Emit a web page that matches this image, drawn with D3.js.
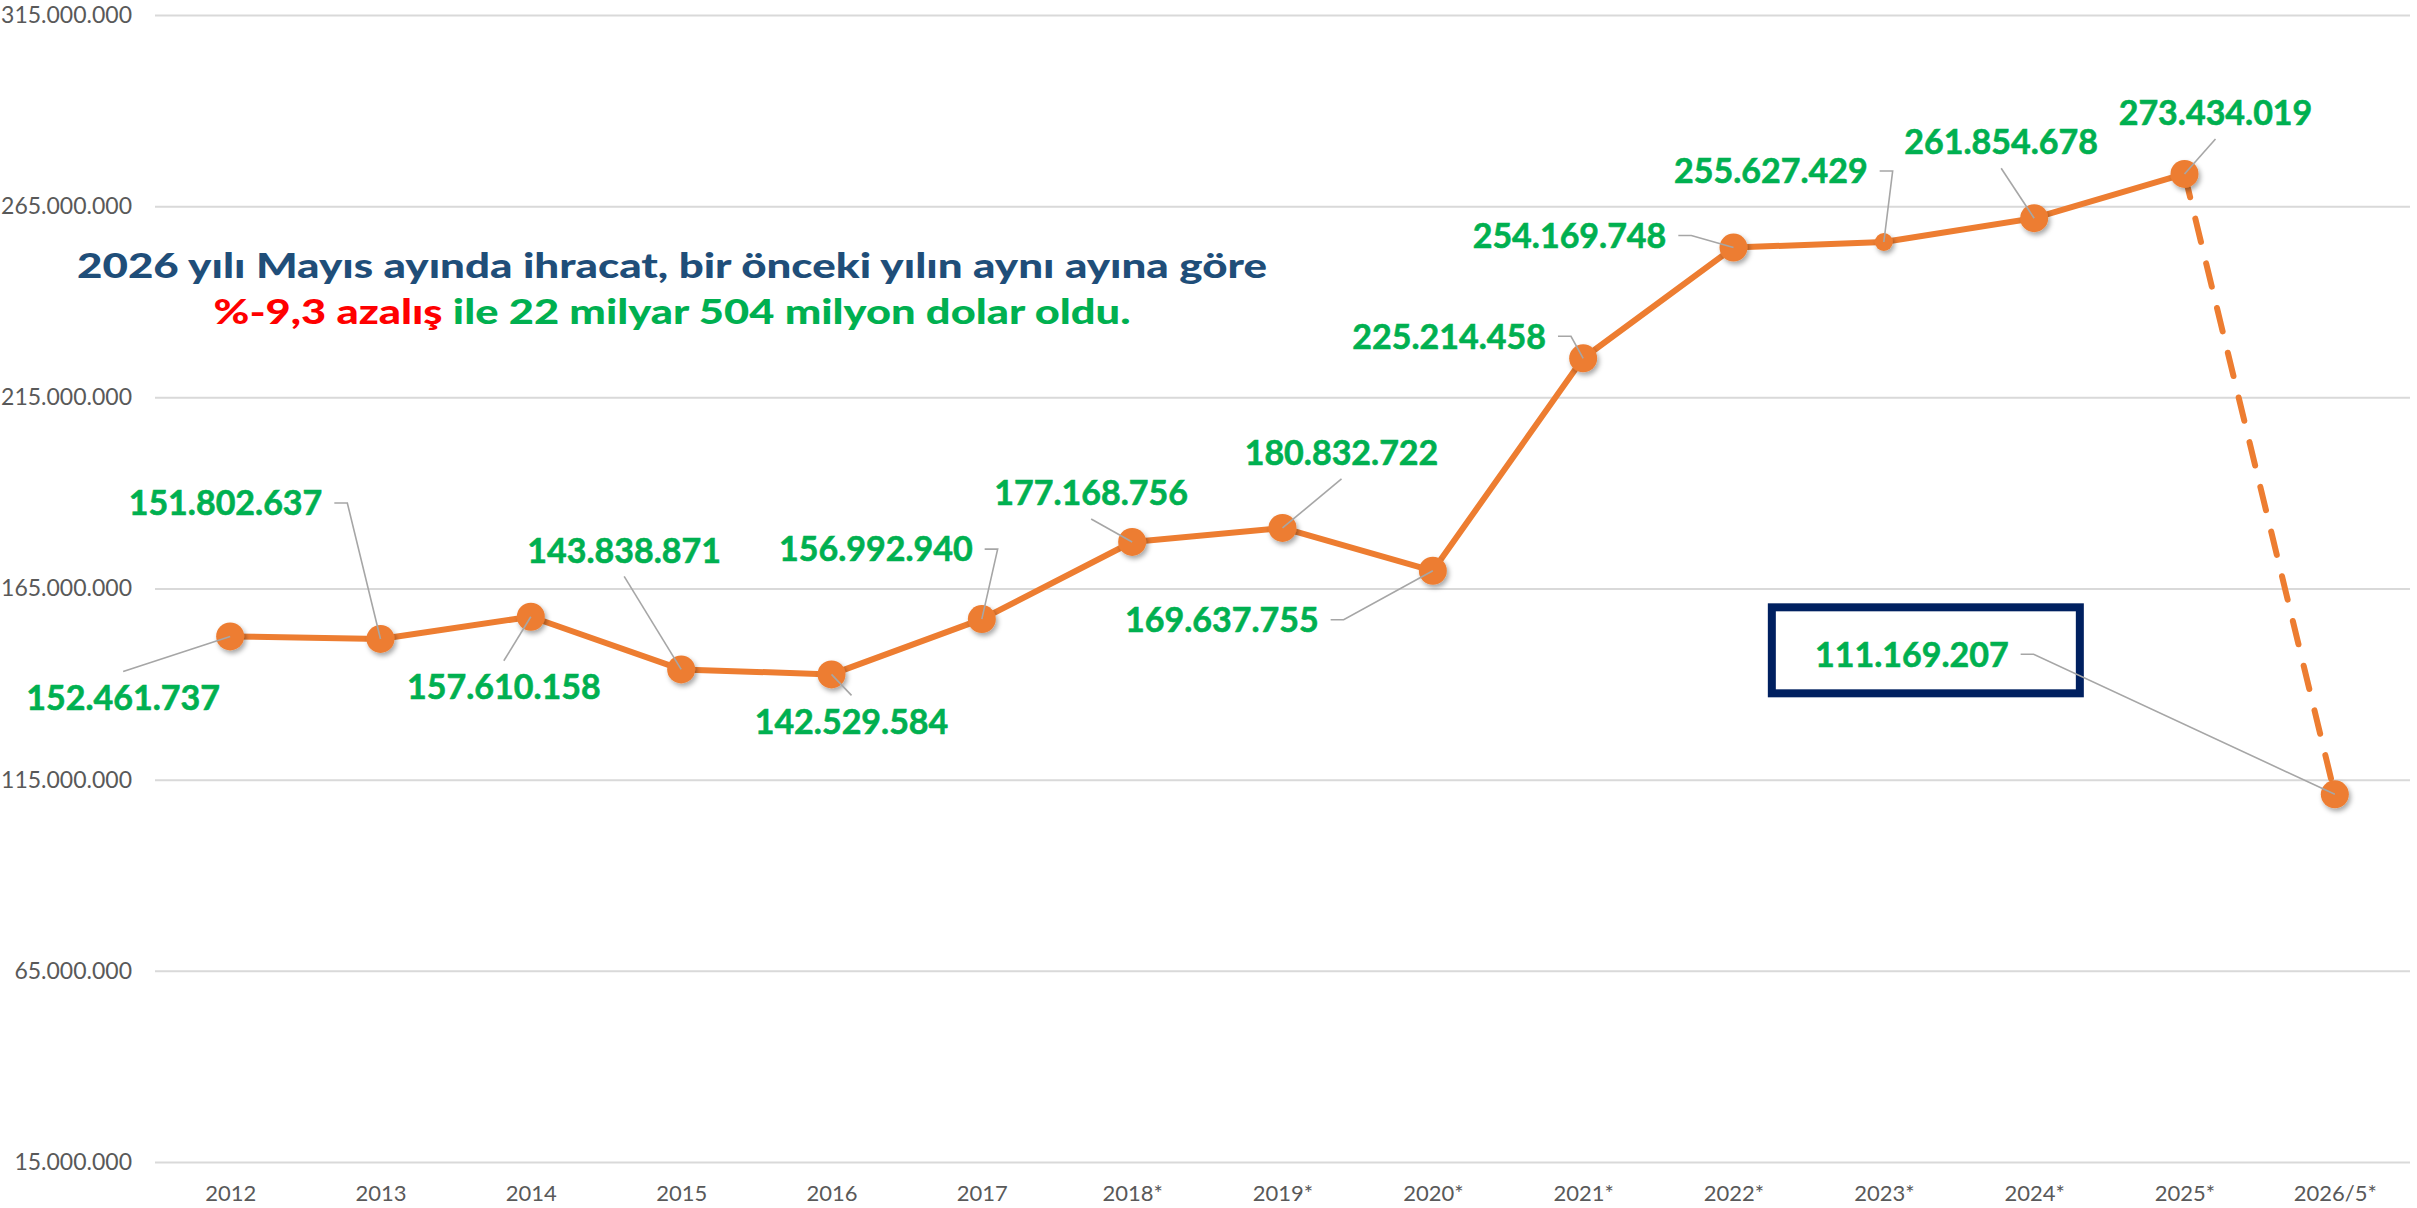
<!DOCTYPE html>
<html lang="tr">
<head>
<meta charset="utf-8">
<script src="https://cdn.jsdelivr.net/npm/d3@7"></script>
<style>
  body { margin: 0; background: #fff; }
  svg { display: block; }
  .tick text { font-family: Lato, sans-serif; fill: #595959; }
</style>
</head>
<body>
<svg id="chart"></svg>
<script>
const years = ["2012", "2013", "2014", "2015", "2016", "2017", "2018*", "2019*", "2020*",
    "2021*", "2022*", "2023*", "2024*", "2025*", "2026/5*"];
const ihracat = [152461737, 151802637, 157610158, 143838871, 142529584, 156992940, 177168756,
    180832722, 169637755, 225214458, 254169748, 255627429, 261854678, 273434019, 111169207];
const yTicks = [15000000, 65000000, 115000000, 165000000, 215000000, 265000000, 315000000];
const titleLine1 = "2026 yılı Mayıs ayında ihracat, bir önceki yılın aynı ayına göre";
const titleRed = "%-9,3 azalış";
const titleGreen = " ile 22 milyar 504 milyon dolar oldu.";

// where each label sits relative to its point: dx, dy, leader style
// "c" = leader from the text's top/bottom centre, "r" = from the right side with a small tick
const labelOffsets = [
    [-107, 61, "c"], [-155, -136, "r"], [-27, 70, "c"], [-57, -119, "c"], [20, 47, "c"],
    [-106, -70, "r"], [-41, -49, "c"], [59, -75, "c"], [-211, 49, "r"], [-134, -22, "r"],
    [-164, -12, "r"], [-113, -71, "r"], [-33, -76, "c"], [31, -61, "c"], [-423, -140, "r"]
];

const W = 2417, H = 1208;
const plotLeft = 155, plotRight = 2410, plotTop = 15, plotBottom = 1162;
const orange = "#ED7D31", green = "#00B050";

const svg = d3.select("#chart").attr("width", W).attr("height", H);

const tr = d3.formatLocale({ decimal: ",", thousands: ".", grouping: [3], currency: ["", ""] });
const fmt = tr.format(",d");

const x = d3.scalePoint().domain(years).range([plotLeft, plotRight]).padding(0.5);
const y = d3.scaleLinear().domain([15000000, 315000000]).range([plotBottom, plotTop]);

const defs = svg.append("defs");
const shadow = defs.append("filter").attr("id", "shadow")
    .attr("x", "-50%").attr("y", "-50%").attr("width", "200%").attr("height", "200%");
shadow.append("feDropShadow").attr("dx", 2).attr("dy", 3).attr("stdDeviation", 2.5)
    .attr("flood-color", "#000").attr("flood-opacity", 0.35);

// gridlines + y labels
const yAxis = svg.append("g").attr("transform", `translate(${plotLeft},0)`)
    .call(d3.axisLeft(y).tickValues(yTicks).tickSize(-(plotRight - plotLeft)).tickPadding(23).tickFormat(fmt));
yAxis.select(".domain").remove();
yAxis.selectAll(".tick line").attr("stroke", "#D9D9D9").attr("stroke-width", 2);
yAxis.selectAll(".tick text").attr("font-size", 23);

// x labels
const xAxis = svg.append("g").attr("transform", `translate(0,${plotBottom})`)
    .call(d3.axisBottom(x).tickSize(0).tickPadding(23));
xAxis.select(".domain").remove();
xAxis.selectAll(".tick text").attr("font-size", 22);

// title
const title = svg.append("g").attr("font-family", "Lato, sans-serif").attr("font-weight", 900)
    .attr("font-size", 34).attr("text-anchor", "middle");
title.append("text").attr("x", 672).attr("y", 278).attr("fill", "#1F4E79")
    .attr("textLength", 1190).attr("lengthAdjust", "spacingAndGlyphs").text(titleLine1);
const t2 = title.append("text").attr("x", 672).attr("y", 324)
    .attr("textLength", 917).attr("lengthAdjust", "spacingAndGlyphs");
t2.append("tspan").attr("fill", "#FF0000").text(titleRed);
t2.append("tspan").attr("fill", green).text(titleGreen);

const pts = years.map((d, i) => ({ year: d, value: ihracat[i], off: labelOffsets[i] }));
const last = pts.length - 1;

const line = d3.line().x(d => x(d.year)).y(d => y(d.value));

svg.append("path").datum(pts.slice(0, last))
    .attr("d", line).attr("fill", "none").attr("stroke", orange)
    .attr("stroke-width", 6).attr("stroke-linejoin", "round");

svg.append("path").datum(pts.slice(last - 1))
    .attr("d", line).attr("fill", "none").attr("stroke", orange)
    .attr("stroke-width", 6).attr("stroke-dasharray", "24 22").attr("stroke-linecap", "round");

svg.append("g").selectAll("circle").data(pts).join("circle")
    .attr("cx", d => x(d.year)).attr("cy", d => y(d.value))
    .attr("r", (d, i) => i === 11 ? 9 : 14)
    .attr("fill", orange).attr("filter", "url(#shadow)");

// box round the latest value
const lp = pts[last];
const bx = x(lp.year) + lp.off[0], by = y(lp.value) + lp.off[1];
svg.append("rect").attr("x", bx - 140).attr("y", by - 47).attr("width", 308).attr("height", 86)
    .attr("fill", "none").attr("stroke", "#002060").attr("stroke-width", 8);

// data labels
const labels = svg.append("g").attr("font-family", "Lato, sans-serif").attr("font-weight", 700)
    .attr("font-size", 34).attr("fill", green).attr("text-anchor", "middle");

const texts = labels.selectAll("text").data(pts).join("text")
    .attr("x", d => x(d.year) + d.off[0])
    .attr("y", d => y(d.value) + d.off[1])
    .attr("dy", "0.36em")
    .attr("stroke", green).attr("stroke-width", 0.6)
    .text(d => fmt(d.value));

// leader lines
const leaders = svg.append("g").attr("fill", "none").attr("stroke", "#A6A6A6").attr("stroke-width", 1.6);
texts.each(function (d) {
    const hw = this.getComputedTextLength() / 2;
    const px = x(d.year), py = y(d.value);
    const lx = px + d.off[0], ly = py + d.off[1];
    let path;
    if (d.off[2] === "r") {
        path = [[lx + hw + 12, ly], [lx + hw + 25, ly], [px, py]];
    } else {
        const sy = d.off[1] < 0 ? ly + 26 : ly - 26;
        path = [[lx, sy], [px, py]];
    }
    leaders.append("path").attr("d", d3.line()(path));
});
</script>
</body>
</html>
